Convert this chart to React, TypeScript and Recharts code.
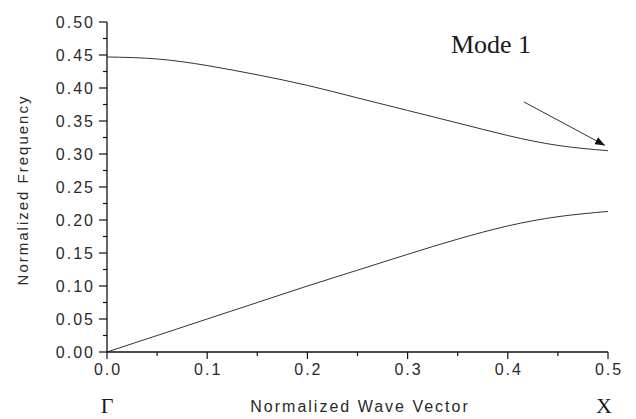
import React from 'react';
import { LineChart, Line, XAxis, YAxis } from 'recharts';

// Normalized wave vector samples (Γ → X)
const waveVector = [0, 0.05, 0.1, 0.15, 0.2, 0.25, 0.3, 0.35, 0.4, 0.45, 0.5];
// Upper branch (Mode 1)
const upperMode = [0.447, 0.444, 0.434, 0.42, 0.404, 0.385, 0.366, 0.347, 0.328, 0.313, 0.305];
// Lower branch
const lowerMode = [0, 0.025, 0.05, 0.075, 0.1, 0.124, 0.148, 0.171, 0.191, 0.205, 0.213];
// Annotation arrow (start → tip) in data units
const arrowX = [0.416, 0.497];
const arrowY = [0.379, 0.313];

const xMajorTicks = [0, 0.1, 0.2, 0.3, 0.4, 0.5];
const xMinorTicks = [0.05, 0.15, 0.25, 0.35, 0.45];
const yMajorTicks = [0, 0.05, 0.1, 0.15, 0.2, 0.25, 0.3, 0.35, 0.4, 0.45, 0.5];
const yMinorTicks = [0.025, 0.075, 0.125, 0.175, 0.225, 0.275, 0.325, 0.375, 0.425, 0.475];

const xTickLabels = ['0.0', '0.1', '0.2', '0.3', '0.4', '0.5'];
const yTickLabels = ['0.00', '0.05', '0.10', '0.15', '0.20', '0.25', '0.30', '0.35', '0.40', '0.45', '0.50'];

const upperData = waveVector.map((x, i) => ({ x, y: upperMode[i] }));
const lowerData = waveVector.map((x, i) => ({ x, y: lowerMode[i] }));
const arrowData = arrowX.map((x, i) => ({ x, y: arrowY[i] }));

const xTicks = [...xMajorTicks, ...xMinorTicks].sort((a, b) => a - b);
const yTicks = [...yMajorTicks, ...yMinorTicks].sort((a, b) => a - b);

const near = (a: number, b: number) => Math.abs(a - b) < 1e-6;

const numFont = "'Liberation Sans', Arial, sans-serif";
const serif = "'Liberation Serif', 'Times New Roman', serif";
const textColor = '#2a2a2a';

const XTick = (props: any) => {
  const { x, y, payload } = props;
  const idx = xMajorTicks.findIndex((t) => near(t, payload.value));
  const major = idx >= 0;
  return (
    <g>
      <line x1={x} y1={y} x2={x} y2={y + (major ? 7 : 4)} stroke="#111" strokeWidth={1.2} />
      {major && (
        <text
          x={x + 1}
          y={y + 17}
          textAnchor="middle"
          dominantBaseline="central"
          fontFamily={numFont}
          fontSize={16}
          letterSpacing={2}
          fill={textColor}
        >
          {xTickLabels[idx]}
        </text>
      )}
    </g>
  );
};

const YTick = (props: any) => {
  const { x, y, payload } = props;
  const idx = yMajorTicks.findIndex((t) => near(t, payload.value));
  const major = idx >= 0;
  return (
    <g>
      <line x1={x} y1={y} x2={x - (major ? 8 : 4)} y2={y} stroke="#111" strokeWidth={1.2} />
      {major && (
        <text
          x={x - 12}
          y={y}
          textAnchor="end"
          dominantBaseline="central"
          fontFamily={numFont}
          fontSize={16}
          letterSpacing={2}
          fill={textColor}
        >
          {yTickLabels[idx]}
        </text>
      )}
    </g>
  );
};

export default function App() {
  return (
    <div style={{ position: 'absolute', left: 0, top: 0, width: 636, height: 419, background: '#fff' }}>
      <svg width={0} height={0} style={{ position: 'absolute' }}>
        <defs>
          <marker
            id="arrowhead"
            markerWidth={10}
            markerHeight={8}
            refX={10}
            refY={4}
            orient="auto"
            markerUnits="userSpaceOnUse"
          >
            <path d="M0,0 L10,4 L0,8 Z" fill="#111" />
          </marker>
        </defs>
      </svg>
      <LineChart width={636} height={419} margin={{ top: 22, right: 28, bottom: 0, left: 0 }}>
        <XAxis
          dataKey="x"
          type="number"
          domain={[0, 0.5]}
          ticks={xTicks}
          interval={0}
          tickSize={0}
          tickMargin={0}
          tickLine={false}
          tick={<XTick />}
          height={67}
          axisLine={{ stroke: '#111', strokeWidth: 1.3 }}
          allowDecimals
        />
        <YAxis
          type="number"
          domain={[0, 0.5]}
          ticks={yTicks}
          interval={0}
          tickSize={0}
          tickMargin={0}
          tickLine={false}
          tick={<YTick />}
          width={107}
          axisLine={{ stroke: '#111', strokeWidth: 1.3 }}
        />
        <Line
          data={upperData}
          dataKey="y"
          type="natural"
          stroke="#333"
          strokeWidth={1}
          dot={false}
          isAnimationActive={false}
        />
        <Line
          data={lowerData}
          dataKey="y"
          type="natural"
          stroke="#333"
          strokeWidth={1}
          dot={false}
          isAnimationActive={false}
        />
        <Line
          data={arrowData}
          dataKey="y"
          type="linear"
          stroke="#333"
          strokeWidth={1}
          dot={false}
          markerEnd="url(#arrowhead)"
          isAnimationActive={false}
        />
      </LineChart>
      <svg
        width={636}
        height={419}
        style={{ position: 'absolute', left: 0, top: 0, pointerEvents: 'none' }}
      >
        <text
          x={491}
          y={53}
          textAnchor="middle"
          fontFamily={serif}
          fontSize={26}
          fill="#1a1a1a"
        >
          Mode 1
        </text>
        <text
          x={22}
          y={190}
          transform="rotate(-90 22 190)"
          textAnchor="middle"
          dominantBaseline="central"
          fontFamily={numFont}
          fontSize={15}
          letterSpacing={2}
          fill={textColor}
        >
          Normalized Frequency
        </text>
        <text
          x={360}
          y={406}
          textAnchor="middle"
          dominantBaseline="central"
          fontFamily={numFont}
          fontSize={16}
          letterSpacing={2}
          fill={textColor}
        >
          Normalized Wave Vector
        </text>
        <text
          x={107}
          y={413}
          textAnchor="middle"
          fontFamily={serif}
          fontSize={22}
          fill="#1a1a1a"
        >
          Γ
        </text>
        <text
          x={604}
          y={413}
          textAnchor="middle"
          fontFamily={serif}
          fontSize={22}
          fill="#1a1a1a"
        >
          X
        </text>
      </svg>
    </div>
  );
}
